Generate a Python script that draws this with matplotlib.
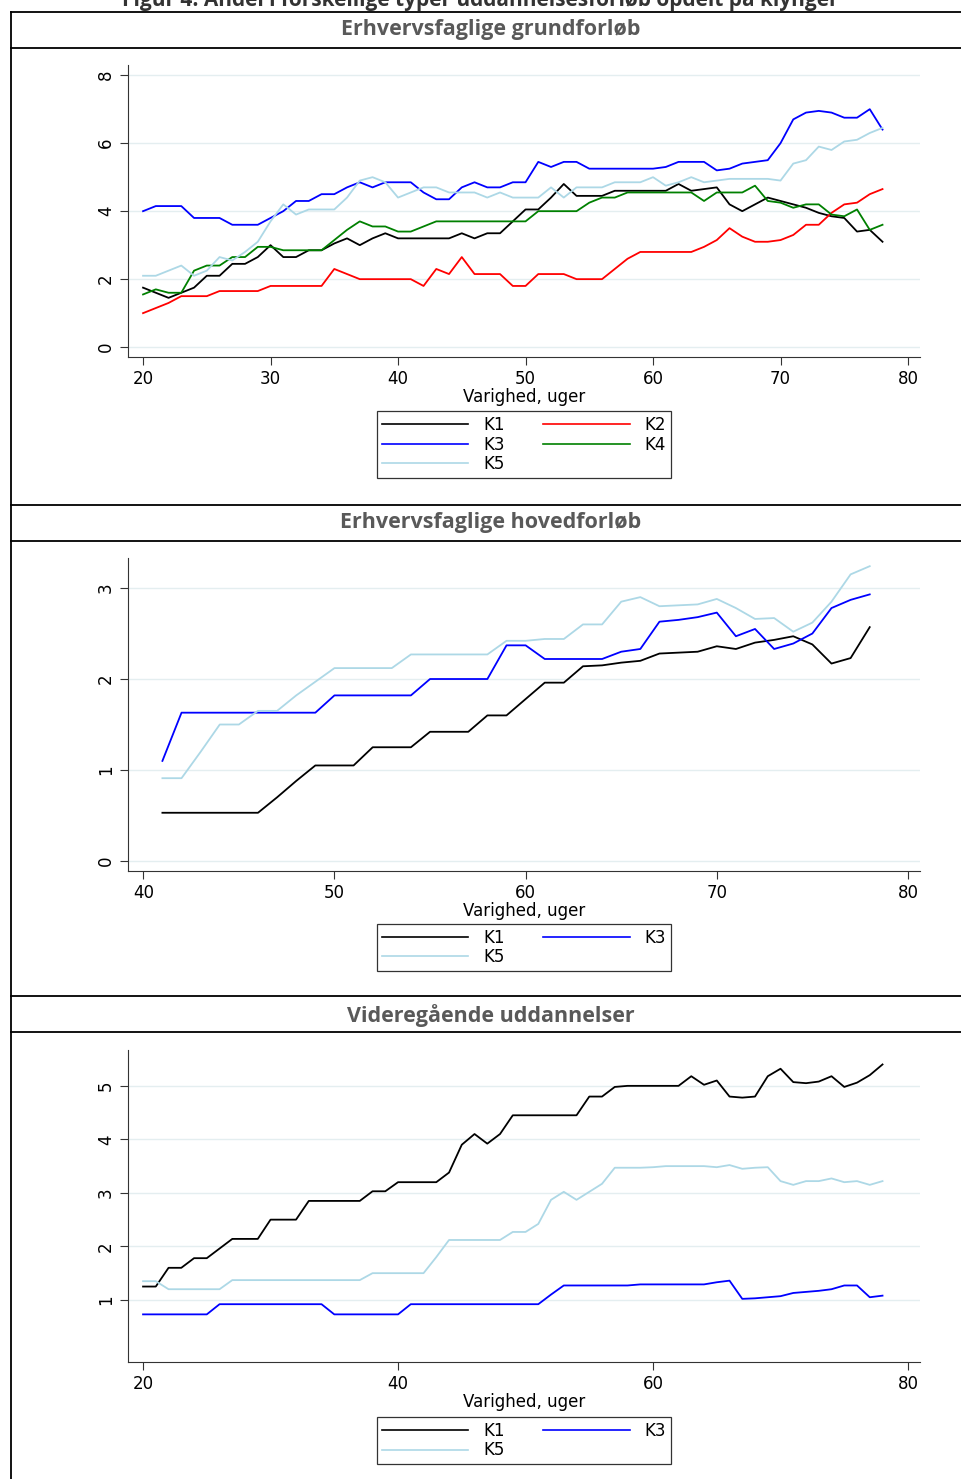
import numpy as np
import matplotlib
matplotlib.use("Agg")
import matplotlib.pyplot as plt
from matplotlib.lines import Line2D

plt.rcParams['font.family'] = ['DejaVu Sans']

# --- data: Erhvervsfaglige grundforløb (uger 20-78)
grund_k1 = [1.75, 1.6, 1.45, 1.6, 1.75, 2.1, 2.1, 2.45, 2.45, 2.65, 3.0, 2.65, 2.65, 2.85, 2.85,
            3.05, 3.2, 3.0, 3.2, 3.35, 3.2, 3.2, 3.2, 3.2, 3.2, 3.35, 3.2, 3.35, 3.35, 3.7,
            4.05, 4.05, 4.4, 4.8, 4.45, 4.45, 4.45, 4.6, 4.6, 4.6, 4.6, 4.6, 4.8, 4.6, 4.65,
            4.7, 4.2, 4.0, 4.2, 4.4, 4.3, 4.2, 4.1, 3.95, 3.85, 3.8, 3.4, 3.45, 3.1]
grund_k2 = [1.0, 1.15, 1.3, 1.5, 1.5, 1.5, 1.65, 1.65, 1.65, 1.65, 1.8, 1.8, 1.8, 1.8, 1.8,
            2.3, 2.15, 2.0, 2.0, 2.0, 2.0, 2.0, 1.8, 2.3, 2.15, 2.65, 2.15, 2.15, 2.15, 1.8,
            1.8, 2.15, 2.15, 2.15, 2.0, 2.0, 2.0, 2.3, 2.6, 2.8, 2.8, 2.8, 2.8, 2.8, 2.95,
            3.15, 3.5, 3.25, 3.1, 3.1, 3.15, 3.3, 3.6, 3.6, 3.95, 4.2, 4.25, 4.5, 4.65]
grund_k3 = [4.0, 4.15, 4.15, 4.15, 3.8, 3.8, 3.8, 3.6, 3.6, 3.6, 3.8, 4.0, 4.3, 4.3, 4.5,
            4.5, 4.7, 4.85, 4.7, 4.85, 4.85, 4.85, 4.55, 4.35, 4.35, 4.7, 4.85, 4.7, 4.7, 4.85,
            4.85, 5.45, 5.3, 5.45, 5.45, 5.25, 5.25, 5.25, 5.25, 5.25, 5.25, 5.3, 5.45, 5.45, 5.45,
            5.2, 5.25, 5.4, 5.45, 5.5, 6.0, 6.7, 6.9, 6.95, 6.9, 6.75, 6.75, 7.0, 6.4]
grund_k4 = [1.55, 1.7, 1.6, 1.6, 2.25, 2.4, 2.4, 2.65, 2.65, 2.95, 2.95, 2.85, 2.85, 2.85, 2.85,
            3.15, 3.45, 3.7, 3.55, 3.55, 3.4, 3.4, 3.55, 3.7, 3.7, 3.7, 3.7, 3.7, 3.7, 3.7,
            3.7, 4.0, 4.0, 4.0, 4.0, 4.25, 4.4, 4.4, 4.55, 4.55, 4.55, 4.55, 4.55, 4.55, 4.3,
            4.55, 4.55, 4.55, 4.75, 4.3, 4.25, 4.1, 4.2, 4.2, 3.9, 3.85, 4.05, 3.45, 3.6]
grund_k5 = [2.1, 2.1, 2.25, 2.4, 2.1, 2.25, 2.65, 2.55, 2.8, 3.1, 3.7, 4.2, 3.9, 4.05, 4.05,
            4.05, 4.4, 4.9, 5.0, 4.85, 4.4, 4.55, 4.7, 4.7, 4.55, 4.55, 4.55, 4.4, 4.55, 4.4,
            4.4, 4.4, 4.7, 4.4, 4.7, 4.7, 4.7, 4.85, 4.85, 4.85, 5.0, 4.75, 4.85, 5.0, 4.85,
            4.9, 4.95, 4.95, 4.95, 4.95, 4.9, 5.4, 5.5, 5.9, 5.8, 6.05, 6.1, 6.3, 6.45]

# --- Erhvervsfaglige hovedforløb (uger 41-78)
hoved_k1 = [0.53, 0.53, 0.53, 0.53, 0.53, 0.53, 0.7, 0.88, 1.05, 1.05, 1.05, 1.25, 1.25,
            1.25, 1.42, 1.42, 1.42, 1.6, 1.6, 1.78, 1.96, 1.96, 2.14, 2.15, 2.18, 2.2,
            2.28, 2.29, 2.3, 2.36, 2.33, 2.4, 2.43, 2.47, 2.38, 2.17, 2.23, 2.57]
hoved_k3 = [1.1, 1.63, 1.63, 1.63, 1.63, 1.63, 1.63, 1.63, 1.63, 1.82, 1.82, 1.82, 1.82,
            1.82, 2.0, 2.0, 2.0, 2.0, 2.37, 2.37, 2.22, 2.22, 2.22, 2.22, 2.3, 2.33,
            2.63, 2.65, 2.68, 2.73, 2.47, 2.55, 2.33, 2.39, 2.5, 2.78, 2.87, 2.93]
hoved_k5 = [0.91, 0.91, 1.2, 1.5, 1.5, 1.65, 1.65, 1.82, 1.97, 2.12, 2.12, 2.12, 2.12,
            2.27, 2.27, 2.27, 2.27, 2.27, 2.42, 2.42, 2.44, 2.44, 2.6, 2.6, 2.85, 2.9,
            2.8, 2.81, 2.82, 2.88, 2.78, 2.66, 2.67, 2.52, 2.62, 2.85, 3.15, 3.24]

# --- Videregående uddannelser (uger 20-78)
vid_k1 = [1.25, 1.25, 1.6, 1.6, 1.78, 1.78, 1.96, 2.14, 2.14, 2.14, 2.5, 2.5, 2.5, 2.85, 2.85,
          2.85, 2.85, 2.85, 3.03, 3.03, 3.2, 3.2, 3.2, 3.2, 3.38, 3.9, 4.1, 3.92, 4.1, 4.45,
          4.45, 4.45, 4.45, 4.45, 4.45, 4.8, 4.8, 4.98, 5.0, 5.0, 5.0, 5.0, 5.0, 5.18, 5.02,
          5.1, 4.8, 4.78, 4.8, 5.18, 5.32, 5.07, 5.05, 5.08, 5.18, 4.98, 5.06, 5.2, 5.4]
vid_k3 = [0.73, 0.73, 0.73, 0.73, 0.73, 0.73, 0.92, 0.92, 0.92, 0.92, 0.92, 0.92, 0.92, 0.92, 0.92,
          0.73, 0.73, 0.73, 0.73, 0.73, 0.73, 0.92, 0.92, 0.92, 0.92, 0.92, 0.92, 0.92, 0.92, 0.92,
          0.92, 0.92, 1.1, 1.27, 1.27, 1.27, 1.27, 1.27, 1.27, 1.29, 1.29, 1.29, 1.29, 1.29, 1.29,
          1.33, 1.36, 1.02, 1.03, 1.05, 1.07, 1.13, 1.15, 1.17, 1.2, 1.27, 1.27, 1.05, 1.08]
vid_k5 = [1.35, 1.35, 1.2, 1.2, 1.2, 1.2, 1.2, 1.37, 1.37, 1.37, 1.37, 1.37, 1.37, 1.37, 1.37,
          1.37, 1.37, 1.37, 1.5, 1.5, 1.5, 1.5, 1.5, 1.8, 2.12, 2.12, 2.12, 2.12, 2.12, 2.27,
          2.27, 2.42, 2.87, 3.02, 2.87, 3.02, 3.17, 3.47, 3.47, 3.47, 3.48, 3.5, 3.5, 3.5, 3.5,
          3.48, 3.52, 3.45, 3.47, 3.48, 3.22, 3.15, 3.22, 3.22, 3.27, 3.2, 3.22, 3.15, 3.22]

colors = {'K1': 'black', 'K2': 'red', 'K3': 'blue', 'K4': 'green', 'K5': '#add8e6'}

W, H = 962, 1479
fig = plt.figure(figsize=(W / 100, H / 100), dpi=100)


def fx(px):
    return px / W


def fy(py):
    return 1 - py / H


# table frame
for py in [12, 48, 505, 541, 996, 1032]:
    fig.add_artist(Line2D([fx(11), 1], [fy(py), fy(py)], color='black', lw=1.3))
fig.add_artist(Line2D([fx(11), fx(11)], [fy(12), 0], color='black', lw=1.3))
fig.text(fx(480), fy(0), 'Figur 4: Andel i forskellige typer uddannelsesforløb opdelt på klynger',
         ha='center', va='center', fontsize=15, fontweight='bold', color='#333333', family='Open Sans')

titles = [('Erhvervsfaglige grundforløb', 30), ('Erhvervsfaglige hovedforløb', 523),
          ('Videregående uddannelser', 1016)]
for t, py in titles:
    fig.text(fx(491), fy(py), t, ha='center', va='center', fontsize=15.5, fontweight='bold',
             color='#595959', family='Open Sans')


def make_axes(top, bottom):
    ax = fig.add_axes([fx(128), fy(bottom), fx(920) - fx(128), fy(top) - fy(bottom)])
    for s in ['top', 'right']:
        ax.spines[s].set_visible(False)
    ax.spines['left'].set_color('#333333')
    ax.spines['bottom'].set_color('#333333')
    ax.grid(axis='y', color='#e4eef0', lw=1)
    ax.set_axisbelow(True)
    ax.tick_params(labelsize=12, length=6, color='#333333')
    ax.set_xlabel('Varighed, uger', fontsize=12, labelpad=0)
    return ax


def finish_yticks(ax):
    for lab in ax.get_yticklabels():
        lab.set_rotation(90)
        lab.set_va('center')


def add_legend(names, top, bottom):
    # matplotlib fills legend columns first; reorder so rows read K1 K2 / K3 K4 / K5
    order = names[0::2] + names[1::2]
    handles = [Line2D([], [], color=colors[n], lw=1.2) for n in order]
    leg = fig.legend(handles, order, ncol=2, loc='center',
                     bbox_to_anchor=(fx(524), fy((top + bottom) / 2)),
                     fontsize=12, frameon=True, fancybox=False, edgecolor='black',
                     handlelength=5.2, labelspacing=0.1, columnspacing=2.3, borderpad=0.3,
                     handletextpad=0.9, borderaxespad=0)
    leg.get_frame().set_linewidth(0.9)


# panel 1
ax1 = make_axes(65, 357)
x1 = np.arange(20, 20 + len(grund_k1))
for name, vals in [('K1', grund_k1), ('K2', grund_k2), ('K3', grund_k3), ('K4', grund_k4), ('K5', grund_k5)]:
    ax1.plot(x1, vals, color=colors[name], lw=1.3)
ax1.set_xlim(18.82, 80.94)
ax1.set_ylim(-0.29, 8.3)
ax1.set_xticks([20, 30, 40, 50, 60, 70, 80])
ax1.set_yticks([0, 2, 4, 6, 8])
finish_yticks(ax1)
add_legend(['K1', 'K2', 'K3', 'K4', 'K5'], 408, 481)

# panel 2
ax2 = make_axes(558, 871)
x2 = np.arange(41, 41 + len(hoved_k1))
for name, vals in [('K1', hoved_k1), ('K3', hoved_k3), ('K5', hoved_k5)]:
    ax2.plot(x2, vals, color=colors[name], lw=1.3)
ax2.set_xlim(39.2, 80.63)
ax2.set_ylim(-0.11, 3.33)
ax2.set_xticks([40, 50, 60, 70, 80])
ax2.set_yticks([0, 1, 2, 3])
finish_yticks(ax2)
add_legend(['K1', 'K3', 'K5'], 922, 973)

# panel 3
ax3 = make_axes(1050, 1362)
x3 = np.arange(20, 20 + len(vid_k1))
for name, vals in [('K1', vid_k1), ('K3', vid_k3), ('K5', vid_k5)]:
    ax3.plot(x3, vals, color=colors[name], lw=1.3)
ax3.set_xlim(18.82, 80.94)
ax3.set_ylim(-0.16, 5.67)
ax3.set_xticks([20, 40, 60, 80])
ax3.set_yticks([1, 2, 3, 4, 5])
finish_yticks(ax3)
add_legend(['K1', 'K3', 'K5'], 1415, 1466)

fig.savefig('out.png', dpi=100)
